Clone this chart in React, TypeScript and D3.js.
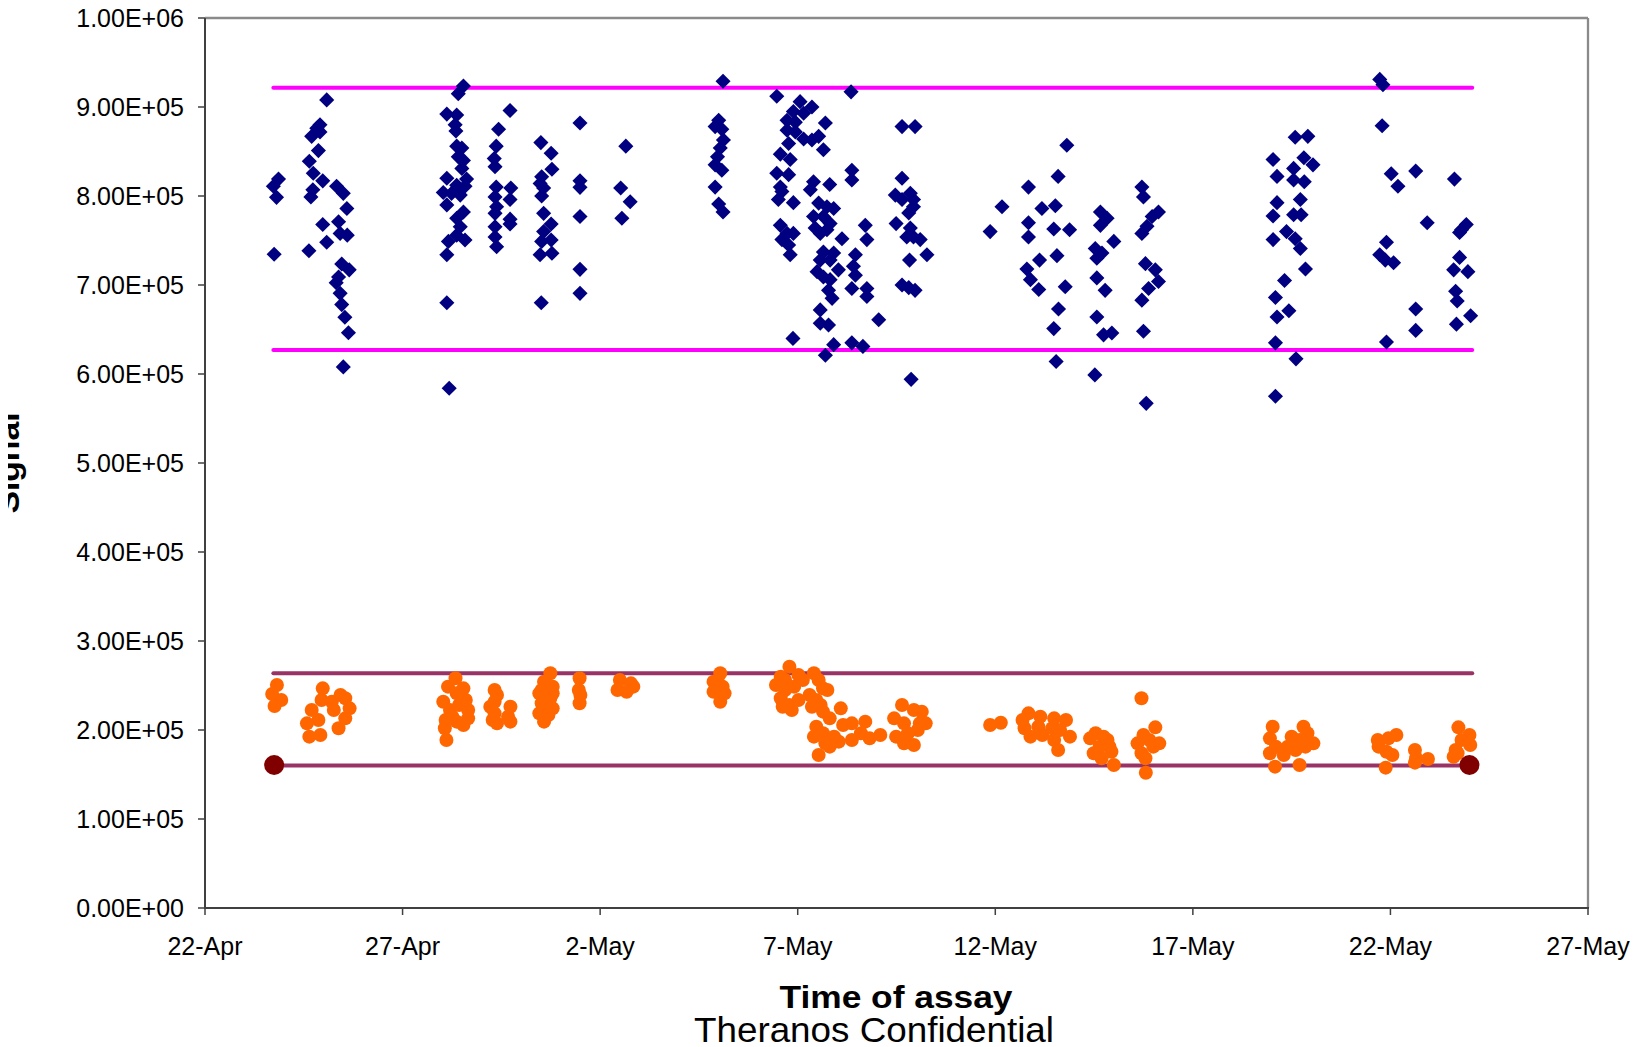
import React from "react";
import * as d3 from "d3";

// Time axis: day offsets from 22-Apr
const START = Date.UTC(2008, 3, 22);
const DAY = 86400000;

const xTickDays = [0, 5, 10, 15, 20, 25, 30, 35];
const xTickLabels = ["22-Apr", "27-Apr", "2-May", "7-May", "12-May", "17-May", "22-May", "27-May"];
const yTickValues = [0, 1e5, 2e5, 3e5, 4e5, 5e5, 6e5, 7e5, 8e5, 9e5, 1e6];

// High control (navy diamonds): [day offset, signal]
const highControl: [number, number][] = [
  [1.86, 819000], [1.73, 811000], [1.81, 798500], [1.75, 734500],
  [3.08, 908000], [2.91, 880000], [2.83, 876000], [2.91, 872000], [2.70, 867000], [2.87, 851000], [2.64, 839000],
  [2.74, 825500], [2.98, 817000], [2.73, 807000], [2.68, 799000], [3.33, 811000], [3.50, 803000], [3.59, 786000],
  [2.98, 768000], [3.38, 771000], [3.42, 758000], [3.60, 756000], [3.08, 748000], [2.63, 738500], [3.46, 723600],
  [3.65, 717000], [3.38, 709000], [3.32, 702600], [3.42, 690600], [3.46, 678000], [3.54, 663700], [3.63, 646400],
  [3.50, 608000],
  [6.54, 923600], [6.41, 915000], [6.12, 892000], [6.37, 891000], [6.33, 880000], [6.35, 873000], [6.37, 856000],
  [6.50, 854000], [6.41, 844000], [6.54, 840000], [6.50, 831000], [6.12, 820000], [6.62, 819000], [6.37, 812000],
  [6.58, 811000], [6.03, 804000], [6.24, 803000], [6.46, 801000], [6.12, 790000], [6.54, 782000], [6.37, 775000],
  [6.46, 765500], [6.37, 756000], [6.16, 749000], [6.58, 750500], [6.12, 734000], [6.12, 680000], [6.18, 584000],
  [7.72, 896000], [7.43, 875000], [7.37, 856000], [7.32, 842000], [7.34, 833000], [7.37, 810000], [7.74, 809000],
  [7.34, 799000], [7.72, 796000], [7.38, 788000], [7.34, 780500], [7.72, 774000], [7.72, 768500], [7.34, 765500],
  [7.34, 754000], [7.38, 743000],
  [8.50, 860000], [8.76, 848000], [8.78, 830000], [8.52, 821700], [8.48, 814000], [8.57, 809000], [8.52, 800000],
  [8.57, 780500], [8.76, 768500], [8.57, 760000], [8.76, 750500], [8.52, 749000], [8.78, 735600], [8.48, 734000],
  [8.51, 680000],
  [9.49, 882000], [9.49, 817000], [9.49, 809700], [9.49, 777000], [9.49, 717600], [9.49, 690600],
  [10.65, 856000], [10.52, 809000], [10.76, 793600], [10.55, 775000],
  [13.11, 929000], [13.00, 885000], [12.91, 878000], [13.08, 875000], [13.12, 863000], [13.04, 854000],
  [12.97, 844000], [12.91, 835000], [13.08, 829000], [12.91, 810000], [13.00, 791000], [13.11, 782000],
  [14.47, 912000], [15.06, 906000], [15.36, 900000], [15.15, 893000], [14.89, 895000], [14.73, 885000],
  [14.94, 883000], [15.70, 882000], [14.73, 874000], [14.94, 872000], [15.15, 864000], [15.36, 863000],
  [15.53, 867000], [14.77, 859000], [15.65, 852000], [14.56, 847000], [14.81, 841000], [14.47, 825500],
  [14.77, 824000], [14.56, 810000], [14.60, 805000], [14.51, 796000], [14.89, 792500], [15.40, 816000],
  [15.81, 813000], [15.32, 807000], [15.53, 792000], [15.74, 788000], [15.91, 786000], [15.40, 777000],
  [15.65, 777000], [15.82, 769000], [15.44, 764000], [15.57, 758000], [15.74, 762000], [14.56, 767000],
  [14.73, 758000], [14.89, 758000], [14.60, 751000], [14.77, 745000], [14.81, 734000], [16.12, 752000],
  [15.65, 737000], [15.91, 736000], [15.82, 728000], [15.57, 728000], [16.03, 717000], [15.49, 715000],
  [15.65, 709000], [15.82, 706000], [15.78, 694000], [15.87, 685000], [15.57, 672000], [15.57, 657000],
  [15.78, 655000], [14.88, 640000], [15.91, 633000], [15.70, 621000],
  [16.71, 767000], [16.75, 751000], [16.37, 829000], [16.37, 818000], [16.46, 734000], [16.41, 721000],
  [16.46, 711000], [16.37, 696000], [16.75, 696000], [16.75, 687000], [17.05, 661000], [16.37, 635000],
  [16.65, 631000], [16.35, 917000],
  [17.64, 878000], [17.97, 878000], [17.64, 820000], [17.47, 801000], [17.64, 796000], [17.85, 803000],
  [17.93, 796000], [17.93, 788000], [17.81, 781000], [17.49, 769000], [17.85, 764000], [17.76, 754000],
  [18.10, 751000], [17.93, 754000], [18.27, 734000], [17.83, 728000], [17.64, 700000], [17.97, 694000],
  [17.81, 697000], [17.87, 594000],
  [20.17, 788000], [19.87, 760000],
  [20.84, 810000], [21.59, 822000], [21.81, 857000], [21.18, 786000], [21.52, 789000], [20.84, 770000],
  [20.84, 754000], [21.48, 763000], [21.88, 762000], [21.12, 728000], [21.56, 733000], [20.80, 718000],
  [20.89, 706000], [21.10, 695000], [21.77, 698000], [21.60, 673000], [21.48, 651000], [21.54, 614000],
  [22.66, 782000], [22.83, 775000], [22.66, 767000], [23.00, 749000], [22.53, 741000], [22.70, 736000],
  [22.57, 730000], [22.57, 708000], [22.78, 694000], [22.57, 664000], [22.74, 644000], [22.95, 646000],
  [22.52, 599000],
  [23.71, 810000], [23.75, 799000], [24.13, 782000], [23.97, 777000], [23.84, 766000], [23.71, 758000],
  [23.80, 724000], [24.05, 717000], [24.13, 704000], [23.88, 696000], [23.71, 683000], [23.75, 648000],
  [23.82, 567000],
  [27.59, 866000], [27.91, 867000], [27.03, 841000], [27.81, 843000], [28.04, 835000], [27.13, 822000],
  [27.55, 831000], [27.55, 818000], [27.82, 816000], [27.13, 792500], [27.72, 796000], [27.03, 777500],
  [27.55, 779000], [27.74, 779000], [27.37, 760000], [27.59, 752000], [27.03, 751000], [27.72, 741000],
  [27.85, 718000], [27.32, 705000], [27.09, 686000], [27.43, 671000], [27.13, 664000], [27.09, 635000],
  [27.61, 617000], [27.09, 575000],
  [29.73, 931000], [29.81, 925000], [29.79, 879000], [30.02, 825000], [30.19, 811000], [29.90, 748000],
  [29.73, 734000], [29.87, 728000], [30.08, 725000], [29.90, 636000],
  [30.64, 828000], [30.93, 770000], [30.64, 673000], [30.64, 649000],
  [31.62, 819000], [31.92, 768000], [31.80, 762000], [31.75, 759000], [31.75, 731000], [31.60, 717000],
  [31.96, 715000], [31.65, 693000], [31.69, 682000], [32.03, 665500], [31.67, 656000],
];

// Low control (orange circles): [day offset, signal]
const lowControl: [number, number][] = [
  [1.82, 250600], [1.70, 240400], [1.93, 233700], [1.76, 227000],
  [2.98, 246800], [2.95, 233700], [2.70, 222500], [2.58, 207500], [2.64, 192500], [2.87, 211200], [2.92, 194400],
  [3.43, 239300], [3.55, 235600], [3.66, 224300], [3.55, 213100], [3.38, 201900], [3.21, 231800], [3.26, 222500],
  [6.34, 258100], [6.15, 248700], [6.54, 246800], [6.37, 241200], [6.03, 231800], [6.60, 233700], [6.43, 228100],
  [6.20, 222500], [6.66, 222500], [6.26, 215000], [6.66, 213100], [6.09, 211200], [6.37, 209400], [6.54, 205600],
  [6.07, 201900], [6.11, 188800],
  [7.33, 245000], [7.39, 239300], [7.33, 231800], [7.22, 226200], [7.33, 218700], [7.28, 211200], [7.39, 207500],
  [7.73, 226200], [7.67, 215000], [7.73, 209400],
  [8.74, 263700], [8.58, 254300], [8.80, 248700], [8.52, 245000], [8.46, 241200], [8.80, 241200], [8.74, 235600],
  [8.52, 230000], [8.80, 224300], [8.46, 218700], [8.69, 216900], [8.58, 209400],
  [9.48, 258100], [9.46, 245000], [9.50, 239300], [9.48, 230000],
  [10.50, 256200], [10.78, 252400], [10.84, 248700], [10.44, 245000], [10.67, 243000],
  [13.04, 263700], [12.87, 254300], [12.98, 254300], [13.10, 248700], [12.87, 243000], [13.15, 241200], [13.04, 231800],
  [14.79, 271200], [14.57, 259900], [15.02, 261800], [14.68, 256200], [15.13, 256200], [14.45, 250600],
  [14.91, 248700], [14.68, 245000], [14.57, 235600], [15.02, 233700], [14.79, 228100], [14.62, 226200],
  [14.85, 222500], [15.41, 263700], [15.53, 256200], [15.64, 246800], [15.75, 245000], [15.30, 239300],
  [15.47, 233700], [15.58, 228100], [15.36, 226200],
  [15.64, 220600], [16.09, 224300], [15.81, 213100], [16.15, 205600], [16.37, 207500], [16.71, 209400],
  [15.47, 203700], [15.64, 196300], [15.41, 192500], [15.92, 192500], [16.60, 196300], [16.82, 190600],
  [16.37, 188800], [16.04, 186900], [15.70, 185000], [15.81, 181300], [15.53, 171900],
  [17.09, 194400], [17.64, 228100], [17.44, 213100], [17.69, 207500], [17.94, 222500], [18.14, 220600],
  [18.09, 207500], [18.24, 207500], [18.04, 200000], [17.79, 196300], [17.49, 192500], [17.69, 185000],
  [17.94, 183100],
  [19.87, 205600], [20.14, 208200],
  [20.84, 218700], [21.14, 215000], [20.69, 211200], [20.74, 201900], [21.09, 203700], [20.89, 192500],
  [21.19, 194400], [21.49, 213100], [21.79, 211200], [21.44, 201900], [21.64, 200000], [21.89, 192500],
  [21.49, 188800], [21.59, 177500],
  [22.54, 196300], [22.40, 190600], [22.74, 192500], [22.84, 188800], [22.64, 181300], [22.89, 181300],
  [22.94, 175600], [22.49, 173800], [22.69, 168200], [23.00, 160700],
  [23.70, 235600], [24.05, 203000], [23.75, 194400], [23.90, 188800], [23.60, 185000], [24.15, 185000],
  [24.00, 181300], [23.70, 173800], [23.80, 168200], [23.81, 152000],
  [27.02, 203700], [26.95, 190600], [27.10, 181300], [26.95, 173800], [27.08, 158800], [27.50, 192500],
  [27.80, 203700], [27.90, 196300], [28.05, 185000], [27.70, 188800], [27.85, 181300], [27.40, 181300],
  [27.60, 177500], [27.30, 171900], [27.70, 160700],
  [29.68, 188800], [29.95, 190600], [30.15, 194400], [29.70, 181300], [29.90, 175600], [30.05, 171900],
  [29.88, 157700],
  [30.62, 177500], [30.65, 168200], [30.95, 167400], [30.62, 163300],
  [31.72, 203000], [32.00, 194400], [31.80, 188800], [32.02, 183100], [31.65, 177500], [31.70, 173800],
  [31.60, 170000],
];

// Control limit lines (start/end day, level)
const limitSpanDays = [1.73, 32.07];
const highLimitLevels = [921700, 627000];
const lowLimitLevels = [263700, 160000];
const endpointMarks: [number, number][] = [[1.75, 160700], [32.0, 160700]];

const FONT = "'Liberation Sans', Arial, Helvetica, sans-serif";

function fmtExp(v: number): string {
  if (v === 0) return "0.00E+00";
  const e = Math.floor(Math.log10(v) + 1e-9);
  const m = v / Math.pow(10, e);
  return `${m.toFixed(2)}E+${String(e).padStart(2, "0")}`;
}

export default function App() {
  const W = 1641;
  const H = 1047;
  const left = 205, right = 1588, top = 18, bottom = 908;

  const x = d3
    .scaleUtc()
    .domain([new Date(START), new Date(START + 35 * DAY)])
    .range([left, right]);
  const y = d3.scaleLinear().domain([0, 1e6]).range([bottom, top]);
  const xd = (d: number) => x(new Date(START + d * DAY));

  const diamondPath = d3.symbol(d3.symbolSquare, 114)() as string;
  const lineGen = d3
    .line<[number, number]>()
    .x((p) => xd(p[0]))
    .y((p) => y(p[1]));

  return (
    <svg
      width={W}
      height={H}
      style={{ display: "block", position: "absolute", left: 0, top: 0 }}
      fontFamily={FONT}
    >
      <defs>
        <clipPath id="ylabClip">
          <rect x={8} y={0} width={60} height={H} />
        </clipPath>
      </defs>
      <rect x={0} y={0} width={W} height={H} fill="#ffffff" />
      {/* plot frame */}
      <line x1={left} y1={top} x2={right} y2={top} stroke="#8a8a8a" strokeWidth={2.3} />
      <line x1={right} y1={top} x2={right} y2={bottom} stroke="#8a8a8a" strokeWidth={2.3} />

      {/* limit lines */}
      {highLimitLevels.map((lv, i) => (
        <path
          key={"h" + i}
          d={lineGen([[limitSpanDays[0], lv], [limitSpanDays[1], lv]]) as string}
          stroke="#FF00FF"
          strokeWidth={4}
          strokeLinecap="round"
          fill="none"
        />
      ))}
      {lowLimitLevels.map((lv, i) => (
        <path
          key={"l" + i}
          d={lineGen([[limitSpanDays[0], lv], [limitSpanDays[1], lv]]) as string}
          stroke="#993366"
          strokeWidth={4}
          strokeLinecap="round"
          fill="none"
        />
      ))}

      {/* high control diamonds */}
      {highControl.map((p, i) => (
        <path
          key={"d" + i}
          d={diamondPath}
          transform={`translate(${xd(p[0])},${y(p[1])}) rotate(45)`}
          fill="#000080"
        />
      ))}

      {/* low control circles */}
      {lowControl.map((p, i) => (
        <circle key={"c" + i} cx={xd(p[0])} cy={y(p[1])} r={7} fill="#FF6600" />
      ))}

      {/* end markers */}
      {endpointMarks.map((p, i) => (
        <circle key={"e" + i} cx={xd(p[0])} cy={y(p[1])} r={10} fill="#800000" />
      ))}

      {/* axes */}
      <line x1={left} y1={top} x2={left} y2={bottom + 1} stroke="#404040" strokeWidth={2} />
      <line x1={left - 1} y1={bottom} x2={right + 1} y2={bottom} stroke="#404040" strokeWidth={2} />

      {yTickValues.map((v) => (
        <g key={"yt" + v}>
          <line x1={left - 7} x2={left} y1={y(v)} y2={y(v)} stroke="#404040" strokeWidth={1.5} />
          <text
            x={left - 21}
            y={y(v)}
            dy="0.36em"
            textAnchor="end"
            fontSize={25}
            fill="#000"
          >
            {fmtExp(v)}
          </text>
        </g>
      ))}

      {xTickDays.map((d, i) => (
        <g key={"xt" + d}>
          <line x1={xd(d)} x2={xd(d)} y1={bottom} y2={bottom + 7} stroke="#404040" strokeWidth={1.5} />
          <text x={xd(d)} y={955} textAnchor="middle" fontSize={25} fill="#000">
            {xTickLabels[i]}
          </text>
        </g>
      ))}

      {/* titles */}
      <text
        x={896}
        y={1008}
        textAnchor="middle"
        fontSize={31}
        fontWeight="bold"
        textLength={233}
        lengthAdjust="spacingAndGlyphs"
      >
        Time of assay
      </text>
      <text
        x={874}
        y={1042}
        textAnchor="middle"
        fontSize={35}
        textLength={360}
        lengthAdjust="spacingAndGlyphs"
      >
        Theranos Confidential
      </text>
      <g clipPath="url(#ylabClip)">
        <text
          transform={`translate(18.5,463) rotate(-90)`}
          textAnchor="middle"
          fontSize={31}
          fontWeight="bold"
          textLength={101}
          lengthAdjust="spacingAndGlyphs"
        >
          Signal
        </text>
      </g>
    </svg>
  );
}
